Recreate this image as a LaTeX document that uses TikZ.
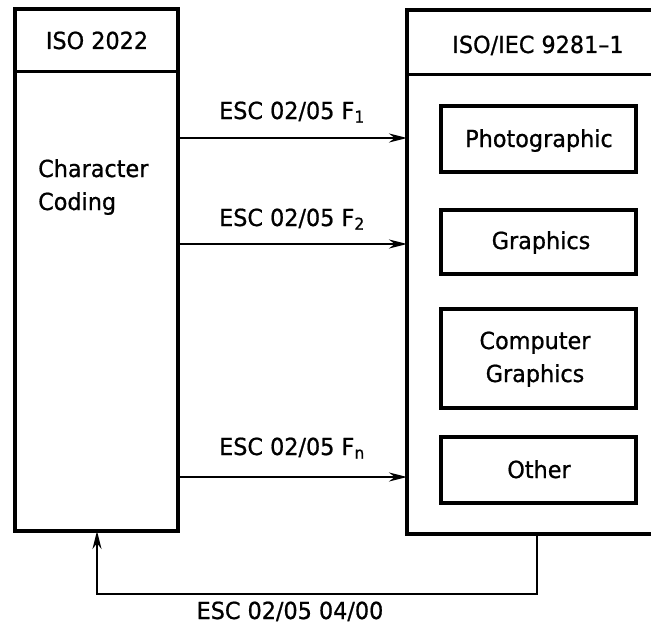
\documentclass[tikz,border=0pt]{standalone}
\usepackage{fontspec}
\setmainfont[FakeStretch=0.95,FakeBold=0.8]{DejaVu Sans}
\usetikzlibrary{arrows.meta}
\begin{document}
\begin{tikzpicture}[x=1pt,y=-1pt,
  thickbox/.style={draw, line width=3.2pt, inner sep=0pt, outer sep=0pt},
  divider/.style={line width=3pt},
  innerbox/.style={draw, line width=3.2pt, inner sep=0pt, outer sep=0pt, minimum width=195pt},
  lbl/.style={font=\fontsize{23.5}{33}\selectfont, inner sep=0pt, anchor=base},
  conn/.style={line width=2.2pt, -{Stealth[length=18pt,width=9pt]}}]
\useasboundingbox (0,0) rectangle (651,626);
\clip (0,0) rectangle (651,626);
% left box
\node[thickbox, minimum width=163pt, minimum height=522pt] (L) at (96.5,270) {};
\draw[divider] (L.west |- 0,72) coordinate (Lh1) -- (L.east |- 0,72) coordinate (Lh2);
\node[lbl] (iso) at (97,49) {ISO 2022};
\node[lbl, anchor=base west, align=left] (cc) at (38,210) {Character\\Coding};
% right box (open on the right)
\node[thickbox, minimum width=300pt, minimum height=524pt, anchor=north west] (R) at (407,10) {};
\draw[divider] (R.west |- 0,75) coordinate (Rh1) -- (R.east |- 0,75) coordinate (Rh2);
\node[lbl] (iec) at (538,53) {ISO/IEC 9281–1};
% inner boxes
\node[innerbox, minimum height=66pt] (ph) at (538.5,139) {};
\node[lbl] at (539,147) {Photographic};
\node[innerbox, minimum height=64pt] (gr) at (538.5,242) {};
\node[lbl] at (541,249) {Graphics};
\node[innerbox, minimum height=99pt] (cg) at (538.5,358.5) {};
\node[lbl, align=center] at (535,382) {Computer\\Graphics};
\node[innerbox, minimum height=66pt] (ot) at (538.5,470) {};
\node[lbl] at (539,478) {Other};
% arrows
\coordinate (a1) at (0,138);
\coordinate (a2) at (0,244);
\coordinate (a3) at (0,477);
\draw[conn] (L.east |- a1) -- (R.west |- a1);
\draw[conn] (L.east |- a2) -- (R.west |- a2);
\draw[conn] (L.east |- a3) -- (R.west |- a3);
\node[lbl] (t1) at (292,119) {ESC 02/05 F\textsubscript{1}};
\node[lbl] (t2) at (292,226) {ESC 02/05 F\textsubscript{2}};
\node[lbl] (t3) at (292,455) {ESC 02/05 F\textsubscript{n}};
% return connector
\coordinate (b1) at (537,594);
\coordinate (b2) at (97,594);
\draw[conn] (R.south -| b1) -- (b1) -- (b2) -- (L.south -| b2);
\node[lbl] (t4) at (290,619) {ESC 02/05 04/00};
\end{tikzpicture}
\end{document}
